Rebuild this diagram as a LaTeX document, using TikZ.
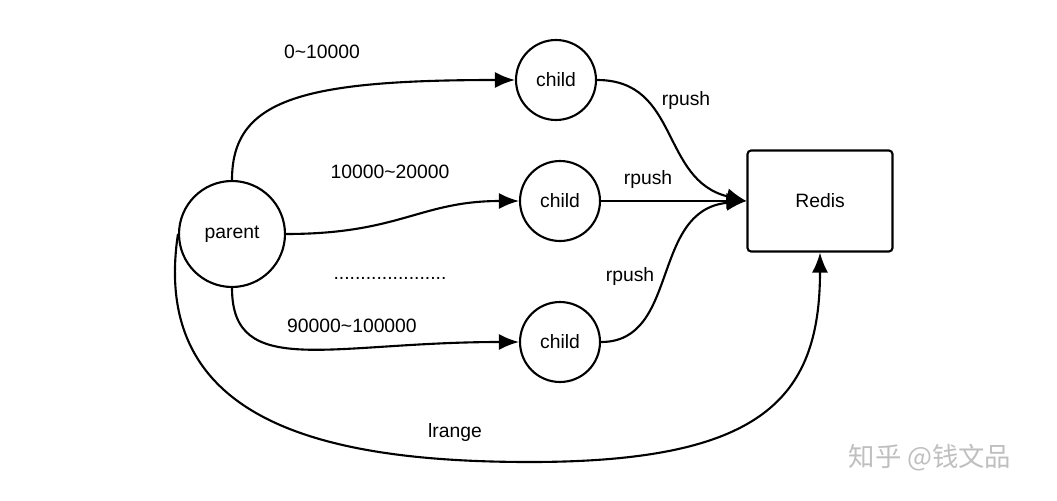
\documentclass[tikz,border=0pt]{standalone}
\usepackage{fontspec}
\setmainfont{Liberation Sans}
\newfontfamily\cjkfont{Noto Sans CJK SC}
\usetikzlibrary{arrows.meta}

\begin{document}
\begin{tikzpicture}[x=0.02cm,y=-0.02cm,
    proc/.style={shape=circle,draw,line width=1.2pt,minimum size=2.12cm,inner sep=0pt},
    kid/.style={shape=circle,draw,line width=1.2pt,minimum size=1.6cm,inner sep=0pt},
    link/.style={line width=1.2pt,-{Latex[length=4mm,width=3.2mm]}},
    lbl/.style={font=\fontsize{11}{13}\selectfont}]
    \useasboundingbox (0,0) rectangle (1057,500);
    \node[proc,lbl] (parent) at (232,234) {parent};
    \node[kid,lbl] (childA) at (556,80) {child};
    \node[kid,lbl] (childB) at (560,201) {child};
    \node[kid,lbl] (childC) at (560,342) {child};
    \node[shape=rectangle,draw,line width=1.2pt,rounded corners=2pt,minimum width=2.9cm,minimum height=2.02cm,lbl] (redis) at (820,201) {Redis};
    % parent to children
    \draw[link] (parent.north) .. controls (232,100) and (300,80) .. (childA.west);
    \draw[link] (parent.east) .. controls (400,234) and (420,201) .. (childB.west);
    \draw[link] (parent.south) .. controls (232,380) and (330,342) .. (childC.west);
    % children to redis
    \draw[link] (childA.east) .. controls (680,80) and (660,180) .. (redis.west);
    \draw[link] (childB.east) -- (redis.west);
    \draw[link] (childC.east) .. controls (680,342) and (650,210) .. (redis.west);
    % lrange
    \draw[link] (parent.west) .. controls (150,420) and (320,462) .. (530,462)
        .. controls (760,462) and (820,400) .. (redis.south);
    \node[lbl] (rangeA) at (322,52) {0\textasciitilde10000};
    \node[lbl] (rangeB) at (390,172) {10000\textasciitilde20000};
    \node[lbl] (dots) at (390,278) {.....................};
    \node[lbl] (rangeC) at (352,326) {90000\textasciitilde100000};
    \node[lbl] (pushA) at (686,101) {rpush};
    \node[lbl] (pushB) at (648,180) {rpush};
    \node[lbl] (pushC) at (630,276) {rpush};
    \node[lbl] (lrange) at (455,432) {lrange};
    \node[text=black!25,font=\cjkfont\fontsize{15}{18}\selectfont] (mark) at (930,458) {知乎 @钱文品};
\end{tikzpicture}
\end{document}
